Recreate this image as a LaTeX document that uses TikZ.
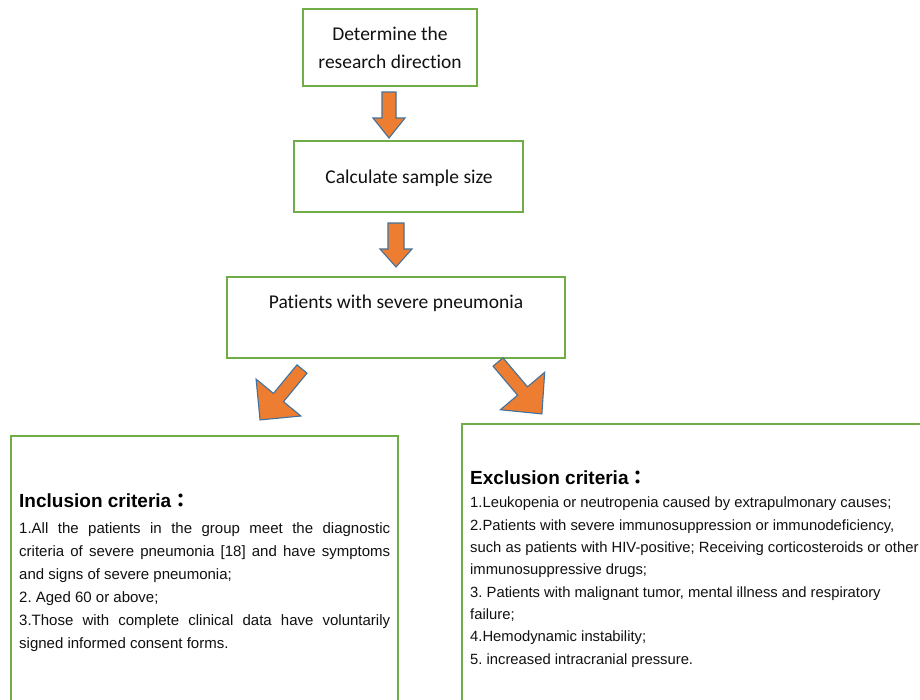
\documentclass[tikz,border=0pt]{standalone}
\usepackage{fontspec}
\setmainfont{Liberation Sans}
\newfontfamily\calibri[Ligatures=NoCommon]{Carlito}
\newfontfamily\cjkfont{Noto Sans CJK TC}
\definecolor{boxgreen}{HTML}{70AD47}
\definecolor{arrorange}{HTML}{ED7D31}
\definecolor{arrblue}{HTML}{41719C}
\definecolor{textblack}{HTML}{111111}
\begin{document}
\begin{tikzpicture}[x=1pt,y=-1pt,
  gbox/.style={draw=boxgreen, line width=1.7pt, fill=white, inner sep=0pt},
  toptext/.style={font=\calibri\fontsize{19.5}{28}\selectfont, align=center, inner sep=0pt, text=textblack},
  blkarrow/.style={fill=arrorange, draw=arrblue, line width=1.1pt, line join=miter},
  crit/.style={inner sep=0pt, anchor=north west, text=textblack},
  crithead/.style={font=\bfseries\fontsize{19}{22}\selectfont, inner sep=0pt, anchor=base west, text=black}]
\clip (0,0) rectangle (920,699);
\fill[white] (0,0) rectangle (920,699);

% boxes
\node[gbox, minimum width=174pt, minimum height=77pt] (dir) at (390,47.5) {};
\node[toptext] (dirtext) at (dir.center) {Determine the\\research direction};
\node[gbox, minimum width=229pt, minimum height=71pt] (calc) at (408.5,176.5) {};
\node[toptext] (calctext) at (409,178) {Calculate sample size};
\node[gbox, minimum width=338pt, minimum height=81pt] (pat) at (396,317.5) {};
\node[toptext] (pattext) at (396,303) {Patients with severe pneumonia};
\node[gbox, minimum width=387pt, minimum height=290pt, anchor=north west] (inc) at (10,435) {};
\node[gbox, minimum width=490pt, minimum height=300pt, anchor=north west] (exc) at (461,423) {};

% block arrows
\draw[blkarrow, shift={(389,92)}, rotate=-90]
  (0,-7) -- (26,-7) -- (26,-16) -- (46,0) -- (26,16) -- (26,7) -- (0,7) -- cycle;
\draw[blkarrow, shift={(396,223)}, rotate=-90]
  (0,-8) -- (26,-8) -- (26,-16) -- (44,0) -- (26,16) -- (26,8) -- (0,8) -- cycle;
\draw[blkarrow, shift={(302,369)}, rotate=-129.5]
  (0,-6.5) -- (37,-6.5) -- (37,-29) -- (66,0) -- (37,29) -- (37,6.5) -- (0,6.5) -- cycle;
\draw[blkarrow, shift={(498,362)}, rotate=-49.8]
  (0,-6.5) -- (38,-6.5) -- (38,-29) -- (68,0) -- (38,29) -- (38,6.5) -- (0,6.5) -- cycle;

% inclusion criteria
\node[crithead] (inchead) at (19,507) {Inclusion criteria{\cjkfont ：}};
\node[crit, font=\fontsize{15}{23}\selectfont\frenchspacing, text width=371pt, align=justify] (incbody) at (19,522)
  {\tolerance=10000 1.All the patients in the group meet the diagnostic\linebreak
   criteria of severe pneumonia [18] and have symptoms\linebreak
   and signs of severe pneumonia;\\
   2. Aged 60 or above;\\
   3.Those with complete clinical data have voluntarily\linebreak
   signed informed consent forms.};

% exclusion criteria
\node[crithead] (exchead) at (470,484) {Exclusion criteria{\cjkfont ：}};
\node[crit, font=\fontsize{14.8}{22.3}\selectfont\frenchspacing, align=left] (excbody) at (470,497)
  {1.Leukopenia or neutropenia caused by extrapulmonary causes;\\
   2.Patients with severe immunosuppression or immunodeficiency,\\
   such as patients with HIV-positive; Receiving corticosteroids or other\\
   immunosuppressive drugs;\\
   3. Patients with malignant tumor, mental illness and respiratory\\
   failure;\\
   4.Hemodynamic instability;\\
   5. increased intracranial pressure.};
\end{tikzpicture}
\end{document}
